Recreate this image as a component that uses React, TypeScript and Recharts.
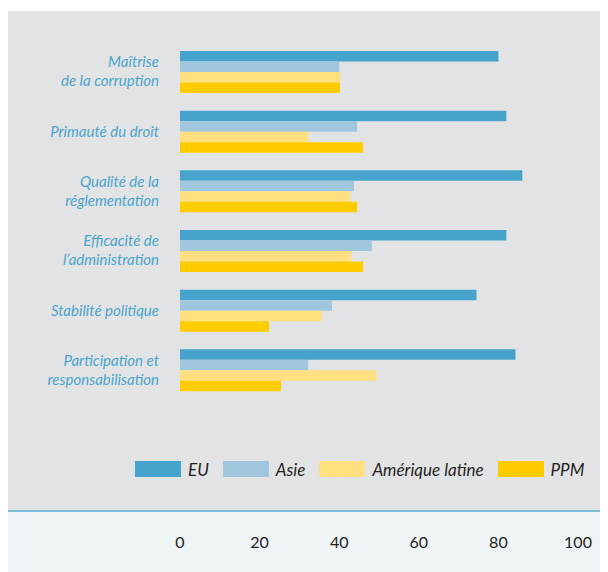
import { BarChart, Bar, XAxis, YAxis } from 'recharts';

const categories = [
  'Maîtrise\nde la corruption',
  'Primauté du droit',
  'Qualité de la\nréglementation',
  'Efficacité de\nl’administration',
  'Stabilité politique',
  'Participation et\nresponsabilisation',
];
const euValues = [80, 82, 86, 82, 74.5, 84.3];
const asieValues = [40, 44.5, 43.7, 48.2, 38.2, 32.2];
const amLatValues = [40.3, 32.3, 42.7, 43, 35.7, 49.4];
const ppmValues = [40.2, 46, 44.5, 46, 22.4, 25.4];
const xTicks = [0, 20, 40, 60, 80, 100];

const seriesNames = ['EU', 'Asie', 'Amérique latine', 'PPM'];
const seriesKeys = ['eu', 'asie', 'amLat', 'ppm'];
const seriesColors = ['#46a3cb', '#a1c7df', '#ffdf80', '#ffcc00'];

const data = categories.map((name, i) => ({
  name,
  eu: euValues[i],
  asie: asieValues[i],
  amLat: amLatValues[i],
  ppm: ppmValues[i],
}));

const FONT = 'Lato, "Open Sans", sans-serif';

function CategoryTick({ x, y, payload }: any) {
  const lines = String(payload.value).split('\n');
  const start = -((lines.length - 1) * 19) / 2;
  return (
    <text x={x - 21} y={y} textAnchor="end" fill="#4ba5cb" fontFamily={FONT} fontStyle="italic" fontSize={15}>
      {lines.map((line, i) => (
        <tspan key={i} x={x - 21} dy={i === 0 ? start + 5 : 19}>{line}</tspan>
      ))}
    </text>
  );
}

function ValueTick({ x, y, payload }: any) {
  return (
    <text x={x} y={y + 142} dy="0.355em" textAnchor="middle" fill="#231f20" fontFamily={FONT} fontSize={16}>
      {payload.value}
    </text>
  );
}

export default function App() {
  return (
    <div style={{ position: 'relative', width: 600, height: 564 }}>
      <div style={{ position: 'absolute', left: 0, top: 3, width: 600, height: 499, background: '#e2e3e5' }} />
      <div style={{ position: 'absolute', left: 0, top: 502, width: 600, height: 2, background: '#7dbfd8' }} />
      <div style={{ position: 'absolute', left: 0, top: 504, width: 600, height: 60, background: '#eff4f7' }} />

      <div style={{ position: 'absolute', left: 0, top: 0 }}>
        <BarChart
          width={600}
          height={564}
          data={data}
          layout="vertical"
          barGap={0}
          margin={{ top: 34, right: 30, bottom: 0, left: 0 }}
        >
          <XAxis
            type="number"
            domain={[0, 100]}
            ticks={xTicks}
            height={172}
            axisLine={false}
            tickLine={false}
            tickSize={0}
            tickMargin={0}
            tick={<ValueTick />}
          />
          <YAxis
            type="category"
            dataKey="name"
            width={172}
            interval={0}
            axisLine={false}
            tickLine={false}
            tickSize={0}
            tickMargin={0}
            tick={<CategoryTick />}
          />
          {seriesKeys.map((k, i) => (
            <Bar key={k} dataKey={k} name={seriesNames[i]} fill={seriesColors[i]} barSize={10.5} isAnimationActive={false} />
          ))}
        </BarChart>
      </div>

      {/* Legend */}
      <div style={{ position: 'absolute', left: 127, top: 453, height: 16, display: 'flex', alignItems: 'center', fontFamily: FONT, fontStyle: 'italic', fontSize: 17, color: '#231f20' }}>
        {seriesNames.map((n, i) => (
          <div key={n} style={{ display: 'flex', alignItems: 'center', marginRight: 14 }}>
            <div style={{ width: 46, height: 16, background: seriesColors[i], marginRight: 7 }} />
            <span>{n}</span>
          </div>
        ))}
      </div>
    </div>
  );
}
